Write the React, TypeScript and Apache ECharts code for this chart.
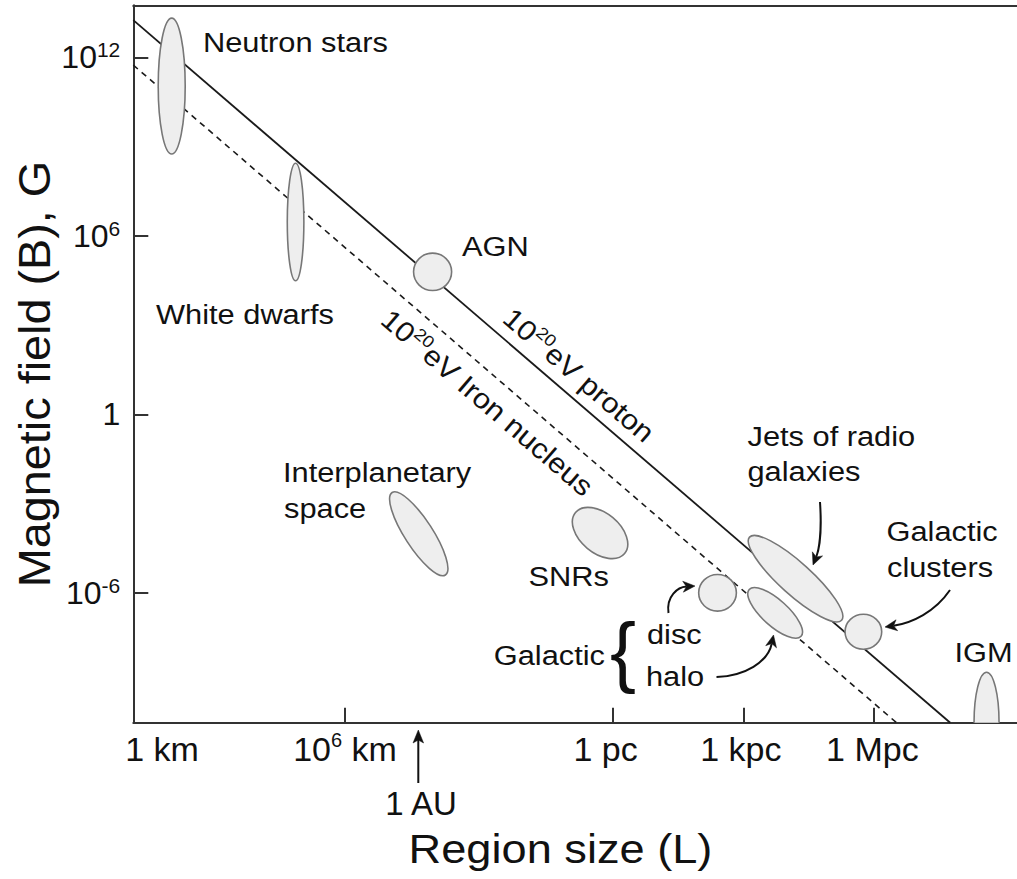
import React, { useEffect, useRef } from 'react';
import * as echarts from 'echarts';

// Horizontal axis: region size, laid out in schematic decades (1 km = 0)
const sizeMin = -0.83;
const sizeMax = 24.71;
const sizeTickValues = [5.29, 13.03, 16.8, 20.56];
const sizeLabelValues = [0, 5.29, 12.82, 16.73, 20.53];
const sizeLabelTexts = ['{b|1 km}', '{b|10}{sup|6}{b| km}', '{b|1 pc}', '{b|1 kpc}', '{b|1 Mpc}'];

// Vertical axis: log10 of the magnetic field in gauss
const fieldMin = -10.37;
const fieldMax = 13.75;
const fieldTickValues = [12, 6, 0, -6];
const fieldLabelTexts = ['{b|10}{sup|12}', '{b|10}{sup|6}', '{b|1}', '{b|10}{sup|-6}'];

// Hillas condition B·L = const for a 10^20 eV proton and iron nucleus
const protonLine = [
  [-0.83, 13.25],
  [22.78, -10.37],
];
const ironLine = [
  [-0.83, 11.74],
  [21.23, -10.37],
];

// Astrophysical sites: end points of each region's long axis (log L, log B)
const siteNames = [
  'Neutron stars',
  'White dwarfs',
  'AGN',
  'Interplanetary space',
  'SNRs',
  'Galactic disc',
  'Galactic halo',
  'Jets of radio galaxies',
  'Galactic clusters',
  'IGM',
];
const sizeStart = [0.28, 3.86, 7.27, 6.65, 11.95, 15.51, 16.97, 16.98, 19.74, 23.83];
const fieldStart = [13.32, 8.44, 4.79, -2.63, -3.3, -6.0, -5.89, -4.13, -7.31, -8.67];
const sizeEnd = [0.28, 3.86, 8.37, 8.19, 13.37, 16.6, 18.47, 19.64, 20.8, 23.83];
const fieldEnd = [8.75, 4.49, 4.79, -5.4, -4.68, -6.0, -7.46, -6.92, -7.31, -12.03];

// Drawing widths (half of the short axis, px)
const shortHalfAxis: Record<string, number> = {
  'Neutron stars': 13.5,
  'White dwarfs': 8.3,
  AGN: 18.7,
  'Interplanetary space': 14,
  SNRs: 20,
  'Galactic disc': 18.3,
  'Galactic halo': 13,
  'Jets of radio galaxies': 16,
  'Galactic clusters': 17.5,
  IGM: 12.5,
};

const FONT = '"Liberation Sans", Arial, Helvetica, sans-serif';
const INK = '#111111';
const AXIS = '#333333';

function pickLabel(values: number[], texts: string[], v: number): string {
  const i = values.findIndex((x) => Math.abs(x - v) < 1e-6);
  return i >= 0 ? texts[i] : '';
}

function note(text: string, x: number, y: number, align: 'left' | 'right' | 'center' = 'left', size = 28, sx = 1.1) {
  return {
    type: 'text',
    x,
    y,
    scaleX: sx,
    z: 20,
    silent: true,
    style: {
      text,
      x: 0,
      y: 0,
      fill: INK,
      fontFamily: FONT,
      fontSize: size,
      align,
      verticalAlign: 'middle',
    },
  };
}

function curvedArrow(pts: number[][]) {
  const [s, c1, c2, e] = pts;
  const dx = e[0] - c2[0];
  const dy = e[1] - c2[1];
  const len = Math.hypot(dx, dy);
  const ux = dx / len;
  const uy = dy / len;
  const L = 12;
  const W = 5.5;
  const base = [e[0] - ux * L, e[1] - uy * L];
  const notch = [e[0] - ux * L * 0.72, e[1] - uy * L * 0.72];
  const left = [base[0] - uy * W, base[1] + ux * W];
  const right = [base[0] + uy * W, base[1] - ux * W];
  return [
    {
      type: 'bezierCurve',
      z: 20,
      silent: true,
      shape: {
        x1: s[0],
        y1: s[1],
        cpx1: c1[0],
        cpy1: c1[1],
        cpx2: c2[0],
        cpy2: c2[1],
        x2: notch[0],
        y2: notch[1],
      },
      style: { stroke: INK, lineWidth: 2, fill: null },
    },
    {
      type: 'polygon',
      z: 20,
      silent: true,
      shape: { points: [e, left, notch, right] },
      style: { fill: INK, stroke: INK, lineWidth: 0.5 },
    },
  ];
}

const lineAngle = -Math.atan(0.8593);

function lineLabel(x: number, y: number, tail: string) {
  return {
    type: 'text',
    x,
    y,
    rotation: lineAngle,
    scaleX: 1.1,
    z: 20,
    silent: true,
    style: {
      text: '{b|10}{sup|20}{b|' + tail + '}',
      x: 0,
      y: 0,
      fill: INK,
      fontFamily: FONT,
      align: 'center',
      verticalAlign: 'middle',
      rich: {
        b: { fontSize: 28, lineHeight: 32, fontFamily: FONT, fill: INK },
        sup: { fontSize: 17, lineHeight: 20, verticalAlign: 'top', fontFamily: FONT, fill: INK },
      },
    },
  };
}

export default function App() {
  const ref = useRef<HTMLDivElement>(null);

  useEffect(() => {
    if (!ref.current) return;
    const chart = echarts.init(ref.current, undefined, { renderer: 'svg' });

    const siteData = siteNames.map((n, i) => [sizeStart[i], fieldStart[i], sizeEnd[i], fieldEnd[i]]);

    const graphics: any[] = [
      note('Neutron stars', 203, 41.7),
      note('White dwarfs', 156, 313.7),
      note('AGN', 462, 246.3),
      note('Interplanetary', 283, 471.7),
      note('space', 284, 508),
      note('SNRs', 528.5, 575.8),
      note('Jets of radio', 747.5, 435.8),
      note('galaxies', 747.5, 471.5),
      note('Galactic', 886.5, 531),
      note('clusters', 887, 567),
      note('IGM', 954.5, 651.7),
      note('Galactic', 605, 655.5, 'right'),
      note('disc', 647, 634),
      note('halo', 646, 676.3),
      note('{', 623, 651, 'center', 78, 1),
      lineLabel(579, 375, 'eV proton'),
      lineLabel(487.5, 402.5, 'eV Iron nucleus'),
      ...curvedArrow([
        [820, 502],
        [822, 532],
        [819, 550],
        [813, 565],
      ]),
      ...curvedArrow([
        [950, 590],
        [935, 612],
        [912, 623],
        [885, 627],
      ]),
      ...curvedArrow([
        [668.5, 613],
        [666, 596],
        [678, 587],
        [695, 586],
      ]),
      ...curvedArrow([
        [716.5, 677],
        [745, 676],
        [768, 662],
        [773.5, 635],
      ]),
      // 1 AU marker below the size axis
      {
        type: 'line',
        z: 20,
        silent: true,
        shape: { x1: 418.3, y1: 783, x2: 418.3, y2: 740 },
        style: { stroke: INK, lineWidth: 2 },
      },
      {
        type: 'polygon',
        z: 20,
        silent: true,
        shape: {
          points: [
            [418.3, 730],
            [413, 743],
            [418.3, 740],
            [423.6, 743],
          ],
        },
        style: { fill: INK, stroke: INK, lineWidth: 0.5 },
      },
      note('1 AU', 421, 803.3, 'center', 33, 1),
      // axis titles
      note('Region size (L)', 560.5, 849, 'center', 40, 1.13),
      {
        type: 'text',
        x: 34,
        y: 374,
        rotation: Math.PI / 2,
        scaleX: 1.04,
        z: 20,
        silent: true,
        style: {
          text: 'Magnetic field (B), G',
          x: 0,
          y: 0,
          fill: INK,
          fontFamily: FONT,
          fontSize: 45,
          align: 'center',
          verticalAlign: 'middle',
        },
      },
    ];

    chart.setOption({
      animation: false,
      backgroundColor: '#ffffff',
      grid: { left: 133.3, right: 0, top: 5.3, bottom: 156.2, containLabel: false },
      xAxis: [
        {
          type: 'value',
          min: sizeMin,
          max: sizeMax,
          position: 'bottom',
          axisLine: { show: true, onZero: false, lineStyle: { color: AXIS, width: 2 } },
          splitLine: { show: false },
          axisTick: {
            show: true,
            inside: true,
            length: 15,
            customValues: sizeTickValues,
            lineStyle: { color: AXIS, width: 2 },
          },
          axisLabel: {
            customValues: sizeLabelValues,
            formatter: (v: number) => pickLabel(sizeLabelValues, sizeLabelTexts, v),
            margin: 7.5,
            color: INK,
            fontFamily: FONT,
            fontSize: 34,
            rich: {
              b: { fontSize: 34, lineHeight: 38, fontFamily: FONT, color: INK },
              sup: { fontSize: 20, lineHeight: 24, verticalAlign: 'top', fontFamily: FONT, color: INK },
            },
          },
        },
        {
          type: 'value',
          min: sizeMin,
          max: sizeMax,
          position: 'top',
          axisLine: { show: true, onZero: false, lineStyle: { color: AXIS, width: 2 } },
          splitLine: { show: false },
          axisTick: { show: false },
          axisLabel: { show: false },
        },
      ],
      yAxis: {
        type: 'value',
        min: fieldMin,
        max: fieldMax,
        axisLine: { show: true, onZero: false, lineStyle: { color: AXIS, width: 2 } },
        splitLine: { show: false },
        axisTick: {
          show: true,
          inside: true,
          length: 15,
          customValues: fieldTickValues,
          lineStyle: { color: AXIS, width: 2 },
        },
        axisLabel: {
          customValues: fieldTickValues,
          formatter: (v: number) => pickLabel(fieldTickValues, fieldLabelTexts, v),
          margin: 13,
          color: INK,
          fontFamily: FONT,
          fontSize: 32,
          rich: {
            b: { fontSize: 32, lineHeight: 36, fontFamily: FONT, color: INK },
            sup: { fontSize: 21, lineHeight: 22, verticalAlign: 'top', fontFamily: FONT, color: INK },
          },
        },
      },
      series: [
        {
          name: '10^20 eV proton',
          type: 'line',
          data: protonLine,
          showSymbol: false,
          silent: true,
          z: 2,
          lineStyle: { color: '#1a1a1a', width: 1.8 },
        },
        {
          name: '10^20 eV Iron nucleus',
          type: 'line',
          data: ironLine,
          showSymbol: false,
          silent: true,
          z: 2,
          lineStyle: { color: '#1a1a1a', width: 1.6, type: [6, 5] },
        },
        {
          name: 'Sites',
          type: 'custom',
          clip: true,
          silent: true,
          z: 3,
          dimensions: ['l1', 'b1', 'l2', 'b2'],
          encode: { x: [0, 2], y: [1, 3] },
          data: siteData,
          renderItem: (params: any, api: any) => {
            const p1 = api.coord([api.value(0), api.value(1)]);
            const p2 = api.coord([api.value(2), api.value(3)]);
            const cx = (p1[0] + p2[0]) / 2;
            const cy = (p1[1] + p2[1]) / 2;
            const a = Math.hypot(p2[0] - p1[0], p2[1] - p1[1]) / 2;
            const ang = Math.atan2(p2[1] - p1[1], p2[0] - p1[0]);
            const b = shortHalfAxis[siteNames[params.dataIndex]];
            return {
              type: 'ellipse',
              x: cx,
              y: cy,
              rotation: -ang,
              shape: { cx: 0, cy: 0, rx: a, ry: b },
              style: { fill: '#eeeeee', stroke: '#777777', lineWidth: 1.6 },
            };
          },
        },
      ],
      graphic: graphics,
    });

    return () => {
      chart.dispose();
    };
  }, []);

  return (
    <div
      ref={ref}
      style={{ position: 'absolute', left: 0, top: 0, width: 1017, height: 879, background: '#fff' }}
    />
  );
}
